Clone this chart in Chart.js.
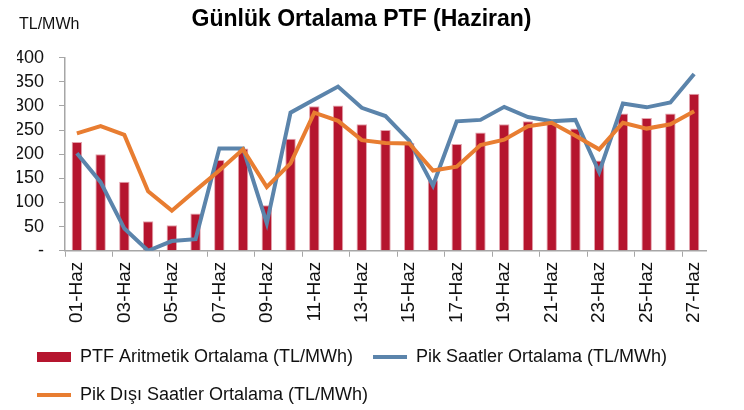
<!DOCTYPE html>
<html lang="tr">
<head>
<meta charset="utf-8">
<title>Günlük Ortalama PTF (Haziran)</title>
<script src="https://cdn.jsdelivr.net/npm/chart.js@4.4.1/dist/chart.umd.min.js"></script>
<style>
  html, body { margin: 0; padding: 0; background: #fff; }
  #wrap { width: 744px; height: 410px; }
</style>
</head>
<body>
<div id="wrap"><canvas id="ptfChart" width="744" height="410"></canvas></div>
<script>
// Veriler (grafikten okunan tahmini değerler)
const gunler = ['01-Haz', '02-Haz', '03-Haz', '04-Haz', '05-Haz', '06-Haz', '07-Haz', '08-Haz', '09-Haz',
    '10-Haz', '11-Haz', '12-Haz', '13-Haz', '14-Haz', '15-Haz', '16-Haz', '17-Haz', '18-Haz',
    '19-Haz', '20-Haz', '21-Haz', '22-Haz', '23-Haz', '24-Haz', '25-Haz', '26-Haz', '27-Haz'];
const ptfOrtalama = [225, 200, 143, 61, 53, 77, 188, 212, 94, 232, 299, 301, 262, 250, 223, 146, 221, 245,
    262, 268, 267, 253, 187, 284, 275, 284, 325];
const pikOrtalama = [202, 142, 46, 0, 20, 24, 212, 212, 57, 286, 313, 340, 296, 279, 228, 135, 268, 271,
    298, 277, 268, 271, 163, 305, 297, 307, 366];
const pikDisiOrtalama = [243, 258, 240, 123, 83, 125, 166, 210, 132, 181, 286, 269, 229, 223, 222, 166, 174, 219,
    230, 258, 265, 238, 210, 265, 253, 262, 289];
const yEksenBirimi = 'TL/MWh';

const FONT = "'Liberation Sans', Arial, sans-serif";
const EKSEN_RENGI = '#a6a6a6';

// Y ekseninin üstündeki birim yazısı
const birimYazisi = {
    id: 'birimYazisi',
    afterDraw(chart) {
        const ctx = chart.ctx;
        const area = chart.chartArea;
        ctx.save();
        ctx.font = '16px ' + FONT;
        ctx.fillStyle = '#111';
        ctx.textAlign = 'left';
        ctx.textBaseline = 'middle';
        ctx.fillText(yEksenBirimi, area.left - 46, area.top - 33);
        ctx.restore();
    }
};

document.addEventListener('DOMContentLoaded', function() {
    const ctx = document.getElementById('ptfChart');
    new Chart(ctx, {
        type: 'bar',
        data: {
            labels: gunler,
            datasets: [{
                type: 'bar',
                label: 'PTF Aritmetik Ortalama (TL/MWh)',
                data: ptfOrtalama,
                backgroundColor: '#b5152e',
                borderColor: '#e3a3ad',
                borderWidth: 1,
                barPercentage: 0.44,
                categoryPercentage: 1,
                order: 2
            }, {
                type: 'line',
                label: 'Pik Saatler Ortalama (TL/MWh)',
                data: pikOrtalama,
                borderColor: '#5b84ab',
                backgroundColor: '#5b84ab',
                borderWidth: 4,
                pointRadius: 0,
                tension: 0,
                order: 1
            }, {
                type: 'line',
                label: 'Pik Dışı Saatler Ortalama (TL/MWh)',
                data: pikDisiOrtalama,
                borderColor: '#e87d31',
                backgroundColor: '#e87d31',
                borderWidth: 4,
                pointRadius: 0,
                tension: 0,
                order: 0
            }]
        },
        options: {
            responsive: false,
            animation: false,
            layout: {
                padding: { left: 17, right: 38, top: 0, bottom: -4 }
            },
            plugins: {
                title: {
                    display: true,
                    text: 'Günlük Ortalama PTF (Haziran)',
                    color: '#000',
                    font: { family: FONT, size: 23, weight: 'bold' },
                    padding: { top: 6, bottom: 24 }
                },
                legend: {
                    position: 'bottom',
                    align: 'start',
                    labels: {
                        color: '#111',
                        font: { family: FONT, size: 18 },
                        usePointStyle: true,
                        pointStyleWidth: 34,
                        boxHeight: 10,
                        padding: 20,
                        sort: (a, b) => a.datasetIndex - b.datasetIndex,
                        generateLabels(chart) {
                            const items = Chart.defaults.plugins.legend.labels.generateLabels(chart);
                            items.forEach(item => {
                                const ds = chart.data.datasets[item.datasetIndex];
                                if (ds.type === 'line') {
                                    item.pointStyle = 'line';
                                    item.lineWidth = 4;
                                    item.strokeStyle = ds.borderColor;
                                } else {
                                    item.pointStyle = 'rect';
                                    item.lineWidth = 0;
                                    item.fillStyle = ds.backgroundColor;
                                }
                            });
                            return items;
                        }
                    }
                },
                tooltip: { enabled: false }
            },
            scales: {
                x: {
                    grid: {
                        offset: true,
                        drawOnChartArea: false,
                        tickLength: 6,
                        color: c => (c.index % 2 === 0 ? EKSEN_RENGI : 'rgba(0,0,0,0)')
                    },
                    border: { color: EKSEN_RENGI, width: 1.5 },
                    ticks: {
                        autoSkip: false,
                        minRotation: 90,
                        maxRotation: 90,
                        padding: 5,
                        color: '#111',
                        font: { family: FONT, size: 19 },
                        callback: function(value, index) {
                            return index % 2 === 0 ? this.getLabelForValue(value) : '';
                        }
                    }
                },
                y: {
                    min: 0,
                    max: 400,
                    afterFit: scale => { scale.width = 48; },
                    grid: {
                        drawOnChartArea: false,
                        tickLength: 6,
                        color: EKSEN_RENGI
                    },
                    border: { color: EKSEN_RENGI, width: 1.5 },
                    ticks: {
                        stepSize: 50,
                        autoSkip: false,
                        padding: 15,
                        color: '#111',
                        font: { family: FONT, size: 18 },
                        callback: v => (v === 0 ? '-' : v)
                    }
                }
            }
        },
        plugins: [birimYazisi]
    });
});
</script>
</body>
</html>
